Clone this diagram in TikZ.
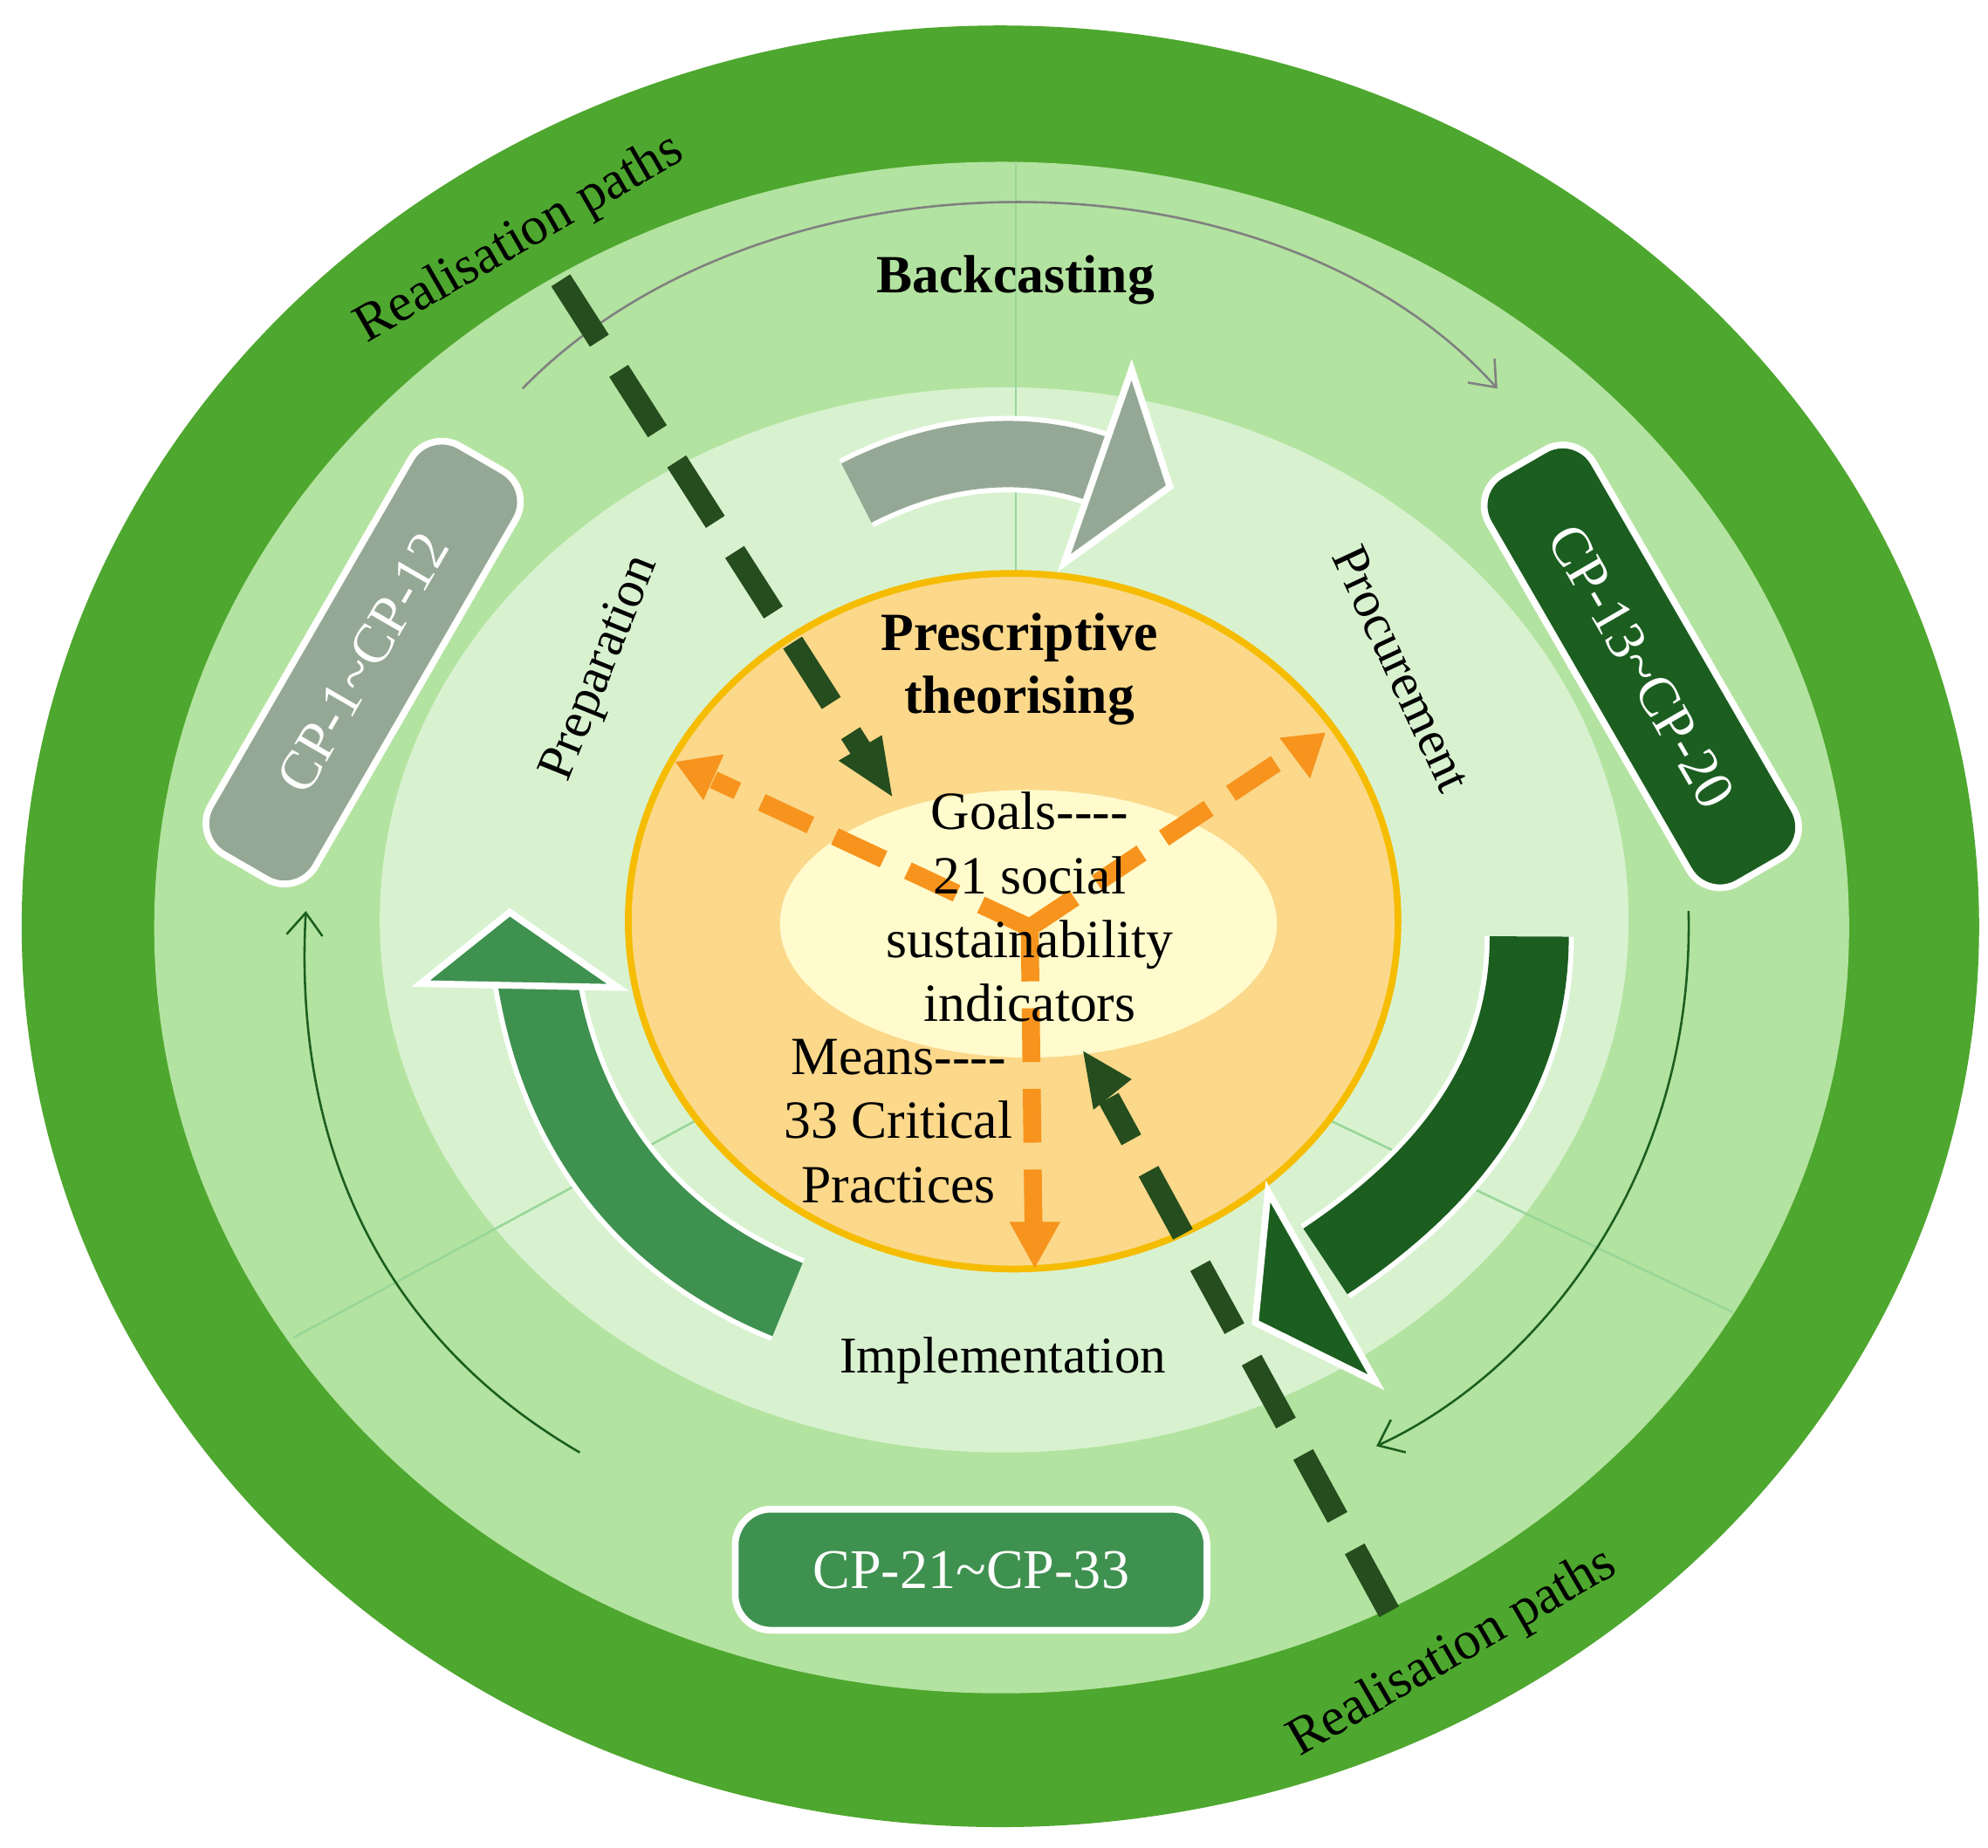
\documentclass[tikz,border=0pt]{standalone}
\usepackage{fontspec}
\setmainfont{Liberation Serif}
\usetikzlibrary{arrows.meta}
\definecolor{g1}{HTML}{4EA72E}
\definecolor{g2}{HTML}{B3E3A0}
\definecolor{g3}{HTML}{D8F2D0}
\definecolor{org}{HTML}{FBD88A}
\definecolor{orgb}{HTML}{F5BC00}
\definecolor{pale}{HTML}{FFFBCC}
\definecolor{grayg}{HTML}{95A895}
\definecolor{dkg}{HTML}{1B5E20}
\definecolor{mdg}{HTML}{3F9150}
\definecolor{dashc}{HTML}{254D1E}
\definecolor{oarr}{HTML}{F7941D}
\begin{document}
\begin{tikzpicture}[x=0.01cm,y=-0.01cm,
 txt/.style={font=\fontsize{11.5}{13}\selectfont,align=center},
 box/.style={rectangle,rounded corners=8pt,draw=white,line width=1.5pt,minimum width=3.7cm,minimum height=0.95cm,text=white,font=\fontsize{12.5}{14}\selectfont},
 thin/.style={line width=0.5pt,-{Straight Barb[length=5pt,width=8pt]}},
 dl/.style={dashc,line width=5pt,dash pattern=on 16pt off 8pt},
 ol/.style={oarr,line width=4pt,dash pattern=on 12pt off 6pt}]
\useasboundingbox (0,0) rectangle (1560,1450);
\fill[white] (0,0) rectangle (1560,1450);
\fill[g1] (785,727) ellipse [x radius=768,y radius=707];
\fill[g2] (786,728) ellipse [x radius=665,y radius=601];
\fill[g3] (788,722) ellipse [x radius=490,y radius=418];
% dividing lines
\draw[green!60!black!40,line width=0.5pt] (797,127) -- (797,450);
\draw[green!60!black!40,line width=0.5pt] (230,1050) -- (545,880);
\draw[green!60!black!40,line width=0.5pt] (1045,880) -- (1360,1030);
% thin arcs
\draw[thin,gray] (410,305) .. controls (600,110) and (1000,110) .. (1175,305);
\draw[thin,dkg] (1325,715) .. controls (1330,930) and (1200,1080) .. (1080,1135);
\draw[thin,dkg] (455,1140) .. controls (300,1050) and (230,900) .. (240,715);
% orange circle
\draw[orgb,line width=1.5pt,fill=org] (795,723) ellipse [x radius=302,y radius=273];
\fill[pale] (807,725) ellipse [x radius=195,y radius=105];
% big arrows
\draw[white,line width=0.6cm] (672,387) .. controls (740,352) and (810,347) .. (872,372);
\draw[grayg,line width=0.52cm] (672,387) .. controls (740,352) and (810,347) .. (872,372);
\filldraw[grayg,draw=white,line width=1.5pt] (888,290) -- (918,382) -- (835,442) -- cycle;
\draw[white,line width=0.7cm] (1200,735) .. controls (1200,850) and (1130,930) .. (1040,990);
\draw[dkg,line width=0.62cm] (1200,735) .. controls (1200,850) and (1130,930) .. (1040,990);
\filldraw[dkg,draw=white,line width=1.5pt] (995,935) -- (1080,1085) -- (985,1038) -- cycle;
\draw[white,line width=0.7cm] (618,1020) .. controls (520,980) and (440,900) .. (420,760);
\draw[mdg,line width=0.62cm] (618,1020) .. controls (520,980) and (440,900) .. (420,760);
\filldraw[mdg,draw=white,line width=1.5pt] (330,772) -- (400,716) -- (485,775) -- cycle;
% boxes
\node[box,fill=grayg,rotate=60] (b1) at (285,520) {CP-1\textasciitilde CP-12};
\node[box,fill=dkg,rotate=-60] (b2) at (1288,523) {CP-13\textasciitilde CP-20};
\node[box,fill=mdg] (b3) at (762,1232) {CP-21\textasciitilde CP-33};
% orange dashed arrows
\coordinate (c) at (808,728);
\coordinate (oa) at (530,598);
\coordinate (ob) at (1040,575);
\coordinate (oc) at (812,995);
\draw[ol] (c) -- (560,612);
\draw[ol] (c) -- (1012,592);
\draw[ol] (c) -- (811,965);
\fill[oarr] (oa) -- +(38,-6) -- +(22,30) -- cycle;
\fill[oarr] (ob) -- +(-12,36) -- +(-36,4) -- cycle;
\fill[oarr] (oc) -- +(-20,-36) -- +(20,-36) -- cycle;
% dark dashed arrows
\coordinate (d1s) at (440,220);
\coordinate (d1e) at (700,625);
\coordinate (d2s) at (1090,1265);
\coordinate (d2e) at (850,825);
\draw[dl] (d1s) -- (680,595);
\fill[dashc] (d1e) -- ++(-42,-28) -- ++(34,-20) -- cycle;
\draw[dl] (d2s) -- (870,862);
\fill[dashc] (d2e) -- ++(38,22) -- ++(-30,24) -- cycle;
% texts
\node[txt,font=\fontsize{12}{14}\selectfont\bfseries] (bc) at (797,220) {Backcasting};
\node[txt,font=\fontsize{12}{14}\selectfont\bfseries] (pt) at (800,525) {Prescriptive\\theorising};
\node[txt,font=\fontsize{12}{14.3}\selectfont] (goals) at (808,712) {Goals{-}{-}{-}{-}\\21 social\\sustainability\\indicators};
\node[txt,font=\fontsize{12}{14.3}\selectfont] (means) at (705,880) {Means{-}{-}{-}{-}\\33 Critical\\Practices};
\node[txt,rotate=68] (prep) at (472,525) {Preparation};
\node[txt,rotate=-65] (proc) at (1100,525) {Procurement};
\node[txt] (impl) at (787,1068) {Implementation};
\node[txt,rotate=30,font=\fontsize{12}{14}\selectfont] (r1) at (408,188) {Realisation paths};
\node[txt,rotate=30,font=\fontsize{12}{14}\selectfont] (r2) at (1140,1298) {Realisation paths};
\end{tikzpicture}
\end{document}
